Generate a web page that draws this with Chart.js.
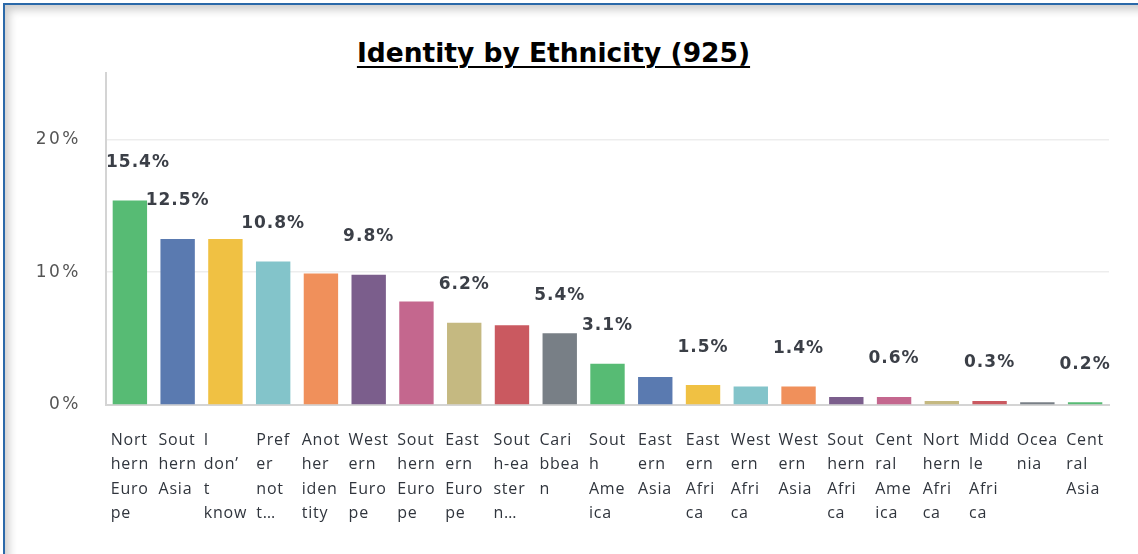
<!DOCTYPE html>
<html>
<head>
<meta charset="utf-8">
<script src="https://cdn.jsdelivr.net/npm/chart.js@4/dist/chart.umd.min.js"></script>
<style>
  body { margin: 0; background: #fff; }
  #frame {
    position: absolute; left: 3px; top: 3px; width: 1160px; height: 580px;
    border-top: 2.5px solid #2b69a9; border-left: 2.5px solid #2b69a9;
    box-shadow: inset 6px 7px 9px -2px rgba(0,0,0,0.2);
  }
  #title {
    position: absolute; left: 0; top: 37px; width: 1107px; text-align: center;
    font: bold 26.5px "DejaVu Sans", sans-serif; color: #000;
    text-decoration: underline; text-underline-offset: 4px; text-decoration-thickness: 2px;
  }
  canvas { position: absolute; left: 0; top: 0; }
</style>
</head>
<body>
<div id="frame"></div>
<div id="title">Identity by Ethnicity (925)</div>
<canvas id="chart" width="1138" height="554"></canvas>
<script>
// categories (full names) and how they are wrapped under the bars
var categories = ["Northern Europe", "Southern Asia", "I don't know", "Prefer not to say",
  "Another identity", "Western Europe", "Southern Europe", "Eastern Europe",
  "South-eastern Asia", "Caribbean", "South America", "Eastern Asia", "Eastern Africa",
  "Western Africa", "Western Asia", "Southern Africa", "Central America",
  "Northern Africa", "Middle Africa", "Oceania", "Central Asia"];
var wrappedLabels = [
  ["Nort", "hern", "Euro", "pe"], ["Sout", "hern", "Asia"], ["I", "don\u2019", "t", "know"],
  ["Pref", "er", "not", "t\u2026"], ["Anot", "her", "iden", "tity"], ["West", "ern", "Euro", "pe"],
  ["Sout", "hern", "Euro", "pe"], ["East", "ern", "Euro", "pe"], ["Sout", "h-ea", "ster", "n\u2026"],
  ["Cari", "bbea", "n"], ["Sout", "h", "Ame", "ica"], ["East", "ern", "Asia"],
  ["East", "ern", "Afri", "ca"], ["West", "ern", "Afri", "ca"], ["West", "ern", "Asia"],
  ["Sout", "hern", "Afri", "ca"], ["Cent", "ral", "Ame", "ica"], ["Nort", "hern", "Afri", "ca"],
  ["Midd", "le", "Afri", "ca"], ["Ocea", "nia"], ["Cent", "ral", "Asia"]];
// percentages
var shares = [15.4, 12.5, 12.5, 10.8, 9.9, 9.8, 7.8, 6.2, 6.0, 5.4, 3.1, 2.1, 1.5, 1.4, 1.4,
  0.6, 0.6, 0.3, 0.3, 0.2, 0.2];
// bars whose value label is shown (the others were hidden by overlap)
var labelled = [0, 1, 3, 5, 7, 9, 10, 12, 14, 16, 18, 20];
var yTicks = [0, 10, 20];

var palette = ["#57bb74", "#5a7ab0", "#f0c143", "#83c4ca", "#f0905b",
  "#7b5e8c", "#c4678e", "#c5b981", "#ca5960", "#787f86"];
var barColors = shares.map(function(v, i) { return palette[i % palette.length]; });

// value labels above the bars
var valueLabels = {
  id: "valueLabels",
  afterDatasetsDraw: function(chart) {
    var ctx = chart.ctx;
    var meta = chart.getDatasetMeta(0);
    ctx.save();
    ctx.font = "bold 17px 'DejaVu Sans'";
    ctx.letterSpacing = "1px";
    ctx.fillStyle = "#3b3f47";
    ctx.textAlign = "center";
    ctx.textBaseline = "middle";
    labelled.forEach(function(i) {
      var bar = meta.data[i];
      var txt = shares[i].toFixed(1) + "%";
      var w = ctx.measureText(txt).width;
      var x = Math.max(bar.x, chart.chartArea.left + w / 2);
      ctx.fillText(txt, x, bar.y - 38);
    });
    ctx.restore();
  }
};

// wrapped category labels, block centred under each bar, lines left aligned
var categoryLabels = {
  id: "categoryLabels",
  beforeDraw: function(chart) {
    chart.ctx.letterSpacing = "2.5px";
  },
  afterDraw: function(chart) {
    var ctx = chart.ctx;
    var xs = chart.scales.x;
    ctx.save();
    ctx.font = "16px 'Open Sans'";
    ctx.letterSpacing = "0.8px";
    ctx.fillStyle = "#30353d";
    ctx.textAlign = "left";
    ctx.textBaseline = "middle";
    wrappedLabels.forEach(function(lines, i) {
      var w = Math.max.apply(null, lines.map(function(l) { return ctx.measureText(l).width; }));
      var left = xs.getPixelForValue(i) - w / 2;
      lines.forEach(function(l, k) {
        ctx.fillText(l, left, chart.chartArea.bottom + 35 + k * 24.6);
      });
    });
    ctx.restore();
  }
};

new Chart(document.getElementById("chart"), {
  type: "bar",
  data: {
    labels: categories,
    datasets: [{
      data: shares,
      backgroundColor: barColors,
      barPercentage: 0.72,
      categoryPercentage: 1.0
    }]
  },
  options: {
    responsive: false,
    animation: false,
    layout: { padding: { left: 0, top: 73, right: 29, bottom: 149 } },
    plugins: { legend: { display: false }, tooltip: { enabled: false } },
    scales: {
      x: {
        ticks: { display: false },
        grid: { display: false },
        border: { color: "#d4d4d4", width: 2 },
        afterFit: function(s) { s.height = 0; }
      },
      y: {
        min: 0,
        max: 25,
        afterFit: function(s) { s.width = 106; },
        afterBuildTicks: function(s) {
          s.ticks = yTicks.map(function(v) { return { value: v }; });
        },
        ticks: {
          padding: 25,
          color: "#555555",
          font: { family: "DejaVu Sans", size: 17 },
          callback: function(v) { return v + "%"; }
        },
        grid: { color: "#ededed", lineWidth: 1.5, drawTicks: false },
        border: { color: "#d4d4d4", width: 2 }
      }
    }
  },
  plugins: [valueLabels, categoryLabels]
});
</script>
</body>
</html>
